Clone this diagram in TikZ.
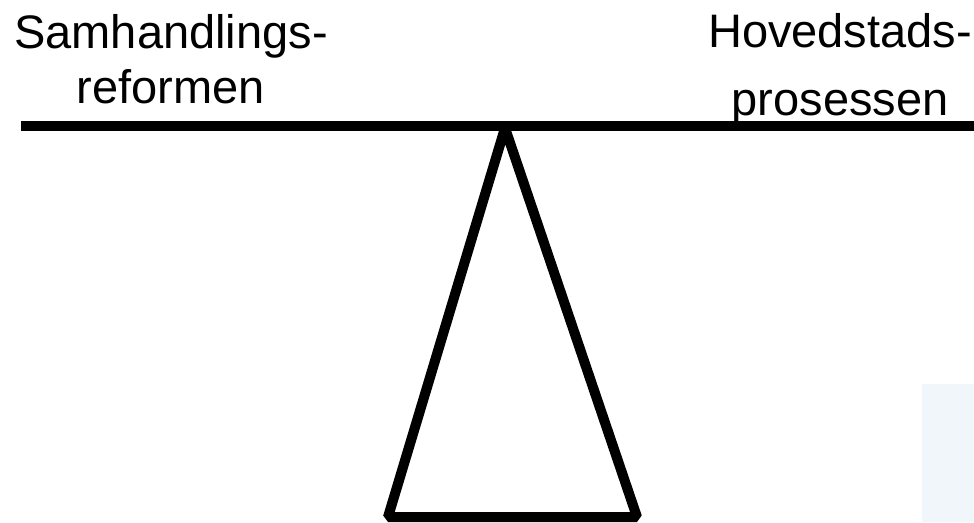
\documentclass[tikz,border=0pt]{standalone}
\usepackage{fontspec}
\setmainfont{Liberation Sans}
\usetikzlibrary{positioning}
\definecolor{paleblue}{RGB}{241,246,251}

\begin{document}
\begin{tikzpicture}[x=1pt, y=-1pt,
  caption/.style={font=\fontsize{47}{55}\selectfont, align=center, inner sep=0pt, anchor=base},
  heavy/.style={line width=10pt}
]
\useasboundingbox (0,0) rectangle (974,522);
\fill[paleblue] (922,384) rectangle (974,522);

% stand
\coordinate (apex) at (505,128);
\coordinate (footL) at (388,517);
\coordinate (footR) at (637,517);
\draw[heavy, line join=bevel] (apex) -- (footL) -- (footR) -- cycle;

% beam
\coordinate (beamL) at (21,125.5);
\coordinate (beamR) at (974,125.5);
\draw[heavy] (beamL) -- (beamR);

\node[caption] (samh) at (171,103) {Samhandlings-\\reformen};
\node[caption, font=\fontsize{47}{68}\selectfont] (hoved) at (840,115) {Hovedstads-\\prosessen};
\end{tikzpicture}
\end{document}
